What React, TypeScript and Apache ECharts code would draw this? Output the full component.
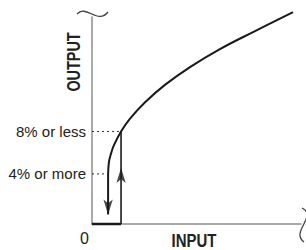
import React, { useEffect, useRef } from "react";
import * as echarts from "echarts";

// Characteristic curve (axis units 0..100 on both axes)
const curveX = [7.7, 8.1, 9.1, 10.5, 13.9, 18.2, 25.4, 34.9, 46.9, 61.2, 78.0, 96.2];
const curveY = [24.2, 29.9, 34.0, 38.1, 44.7, 50.9, 58.8, 67.2, 75.8, 84.5, 93.2, 102.4];

// Switching levels on the OUTPUT axis and their INPUT positions
const levelValues = [24.2, 44.7];
const levelLabels = ["4% or more", "8% or less"];
const levelX = [7.7, 13.9];

// Arrowhead centres (y) on the two switching paths
const downArrowY = 4.6;
const upArrowY = 27;

const xTickValues = [0];
const xTickLabels = ["0"];

const axisTitles = { x: "INPUT", y: "OUTPUT" };

const FONT = "'Liberation Sans', Arial, Helvetica, sans-serif";

export default function App() {
  const ref = useRef<HTMLDivElement>(null);

  useEffect(() => {
    if (!ref.current) return;
    const chart = echarts.init(ref.current, undefined, { renderer: "svg" });

    const lineBase = {
      type: "line",
      showSymbol: false,
      symbol: "none",
      clip: false,
      silent: true,
    };

    const titleStyle = {
      fontFamily: FONT,
      fontWeight: "bold",
      fontSize: 18,
      fill: "#222",
      textAlign: "center",
      textVerticalAlign: "middle",
      align: "center",
      verticalAlign: "middle",
    };

    const option: any = {
      animation: false,
      grid: {
        left: 92,
        top: 17,
        right: 5,
        bottom: 26,
        containLabel: false,
        outerBoundsMode: "none",
      },
      xAxis: {
        type: "value",
        min: 0,
        max: 100,
        axisLine: { show: true, lineStyle: { color: "#8c8c8c", width: 1.5 } },
        axisTick: { show: false },
        splitLine: { show: false },
        axisLabel: {
          customValues: xTickValues,
          formatter: (v: number) => xTickLabels[xTickValues.indexOf(v)] ?? "",
          align: "right",
          padding: [0, 3, 0, 0],
          margin: 6,
          fontFamily: FONT,
          fontSize: 16,
          color: "#222",
        },
      },
      yAxis: {
        type: "value",
        min: 0,
        max: 100,
        axisLine: { show: true, lineStyle: { color: "#8c8c8c", width: 1.5 } },
        axisTick: { show: false },
        splitLine: { show: false },
        axisLabel: {
          customValues: levelValues,
          formatter: (v: number) => levelLabels[levelValues.indexOf(v)] ?? "",
          margin: 6,
          fontFamily: FONT,
          fontSize: 15,
          color: "#222",
        },
      },
      series: [
        {
          ...lineBase,
          name: "curve",
          smooth: 0.4,
          data: curveX.map((x, i) => [x, curveY[i]]),
          lineStyle: { color: "#1a1a1a", width: 2 },
        },
        // dotted level guides
        {
          ...lineBase,
          data: [[0, levelValues[1]], [levelX[1], levelValues[1]]],
          lineStyle: { color: "#333", width: 1, type: [2, 3] },
        },
        {
          ...lineBase,
          data: [[0, levelValues[0]], [levelX[0], levelValues[0]]],
          lineStyle: { color: "#333", width: 1, type: [2, 3] },
        },
        // down path
        {
          ...lineBase,
          data: [[levelX[0], levelValues[0]], [levelX[0], downArrowY]],
          lineStyle: { color: "#1a1a1a", width: 2 },
        },
        // up path
        {
          ...lineBase,
          data: [[levelX[1], 0], [levelX[1], levelValues[1]]],
          lineStyle: { color: "#1a1a1a", width: 1.6 },
        },
        // bottom bold segment
        {
          ...lineBase,
          data: [[0, 0], [levelX[1], 0]],
          lineStyle: { color: "#1a1a1a", width: 2.5 },
        },
        {
          type: "scatter",
          silent: true,
          clip: false,
          symbol: "arrow",
          symbolSize: [7, 15],
          itemStyle: { color: "#1a1a1a" },
          data: [
            { value: [levelX[0], downArrowY], symbolRotate: 180 },
            { value: [levelX[1], upArrowY], symbolRotate: 0 },
          ],
        },
      ],
      graphic: [
        {
          type: "text",
          x: 73,
          y: 62,
          rotation: Math.PI / 2,
          scaleX: 0.8,
          style: { ...titleStyle, text: axisTitles.y },
        },
        {
          type: "text",
          x: 194,
          y: 241,
          scaleX: 0.83,
          style: { ...titleStyle, text: axisTitles.x },
        },
        {
          type: "bezierCurve",
          shape: { x1: 77, y1: 14, cpx1: 86, cpy1: 4, cpx2: 98, cpy2: 25, x2: 108, y2: 12 },
          style: { stroke: "#444", lineWidth: 1.3, fill: "none" },
        },
        {
          type: "bezierCurve",
          shape: { x1: 302, y1: 208, cpx1: 318, cpy1: 216, cpx2: 290, cpy2: 232, x2: 304, y2: 242 },
          style: { stroke: "#444", lineWidth: 1.3, fill: "none" },
        },
      ],
    };

    chart.setOption(option);
    return () => chart.dispose();
  }, []);

  return (
    <div
      ref={ref}
      style={{ position: "absolute", left: 0, top: 0, width: 306, height: 250, background: "#fff" }}
    />
  );
}
